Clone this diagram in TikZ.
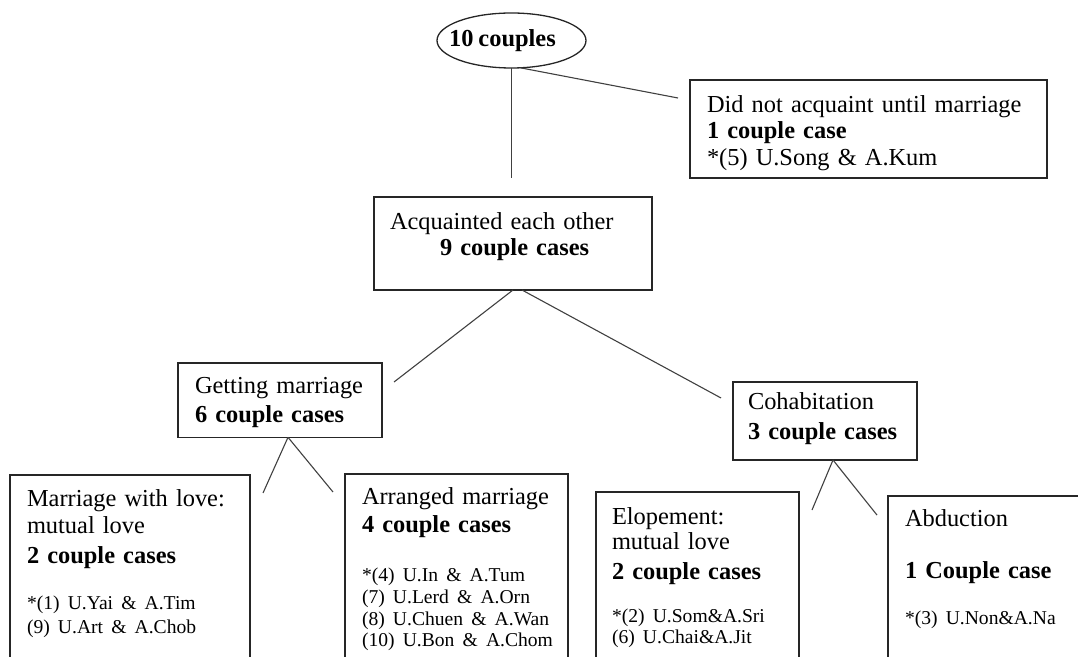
\documentclass[tikz,border=0pt]{standalone}
\usepackage{fontspec}
\setmainfont[WordSpace=0.8]{Liberation Serif}
\usetikzlibrary{shapes.geometric}

\newcommand{\pair}[1]{\mbox{\fontsize{9.8pt}{12pt}\selectfont #1}}

\begin{document}
\begin{tikzpicture}[x=0.5pt,y=-0.5pt,
  casebox/.style={draw=black!85,line width=0.65pt,anchor=north west,align=left,
    inner ysep=0pt,outer sep=0pt,font=\fontsize{12.2pt}{12pt}\selectfont},
  branch/.style={draw=black!75,line width=0.55pt}]
\useasboundingbox (0,0) rectangle (1078,657);
\clip (0,0) rectangle (1078,657);

\node[ellipse,draw=black!85,line width=0.65pt,minimum width=74.5pt,minimum height=27.5pt,
  inner sep=0pt,outer sep=0pt,font=\fontsize{12.2pt}{12pt}\selectfont\bfseries] (all) at (511.5,40.5) {\hspace*{-9pt}10 couples};

\node[casebox,inner xsep=8.5pt,text width=161.5pt,text height=16.25pt,text depth=32.75pt] (nomeet) at (690,80)
  {Did not acquaint until marriage\\[1.25pt]\textbf{1 couple case}\\[1.25pt]*(5) U.Song \& A.Kum};
\node[casebox,inner xsep=8pt,text width=123pt,text height=16.15pt,text depth=30.35pt] (meet) at (374,197)
  {Acquainted each other\\[1.1pt]\hspace*{25pt}\textbf{9 couple cases}};

\node[casebox,inner xsep=8.5pt,text width=85pt,text height=15.15pt,text depth=22pt] (wed) at (178,363)
  {Getting marriage\\[2.7pt]\textbf{6 couple cases}};
\node[casebox,inner xsep=7.5pt,text width=77pt,text height=14pt,text depth=25pt] (cohab) at (733,382)
  {Cohabitation\\[3pt]\textbf{3 couple cases}};

% bottom row
\node[casebox,inner xsep=8.5pt,text width=103pt,text height=15.85pt,text depth=86.65pt] (love) at (10,475)
  {Marriage with love:\\[1.65pt]mutual love\\[2.65pt]\textbf{2 couple cases}\\[11.35pt]
   \pair{*(1) U.Yai \& A.Tim}\\\pair{(9) U.Art \& A.Chob}};
\node[casebox,inner xsep=8.5pt,text width=94.5pt,text height=15.5pt,text depth=87.5pt] (arranged) at (345,474)
  {Arranged marriage\\[1.85pt]\textbf{4 couple cases}\\[12.5pt]
   \pair{*(4) U.In \& A.Tum}\\[-1.15pt]\pair{(7) U.Lerd \& A.Orn}\\[-1.15pt]
   \pair{(8) U.Chuen \& A.Wan}\\[-1.15pt]\pair{(10) U.Bon \& A.Chom}};
\node[casebox,inner xsep=8pt,text width=85.5pt,text height=16.5pt,text depth=77.5pt] (elope) at (596,492)
  {Elopement:\\[0.5pt]mutual love\\[2.65pt]\textbf{2 couple cases}\\[9.7pt]
   \pair{*(2) U.Som\&A.Sri}\\[-1.35pt]\pair{(6) U.Chai\&A.Jit}};
\node[casebox,inner xsep=8.5pt,text width=86.5pt,text height=15.35pt,text depth=76.65pt] (abduct) at (888,496)
  {Abduction\\[13.8pt]\textbf{1 Couple case}\\[11.35pt]\pair{*(3) U.Non\&A.Na}};

% branches
\draw[branch,shorten >=9.5pt] (all.south) -- (all.south |- meet.north);
\draw[branch,shorten >=6.1pt] (all.-72) -- ([yshift=-10.15pt]nomeet.north west);
\draw[branch,shorten >=7.6pt] (meet.south) -- ([yshift=-14.15pt]wed.north east);
\draw[branch,shorten >=6.8pt] ([xshift=4.5pt]meet.south) -- ([yshift=-11.25pt]cohab.north west);
\draw[branch,shorten >=15.9pt] ([xshift=4pt]wed.south) -- ([yshift=-23.5pt]love.north east);
\draw[branch,shorten >=9.45pt] ([xshift=4pt]wed.south) -- ([yshift=-16.3pt]arranged.north west);
\draw[branch,shorten >=16.8pt] ([xshift=4pt]cohab.south) -- ([yshift=-24.5pt]elope.north east);
\draw[branch,shorten >=8.8pt] ([xshift=4pt]cohab.south) -- ([yshift=-16.4pt]abduct.north west);
\end{tikzpicture}
\end{document}
